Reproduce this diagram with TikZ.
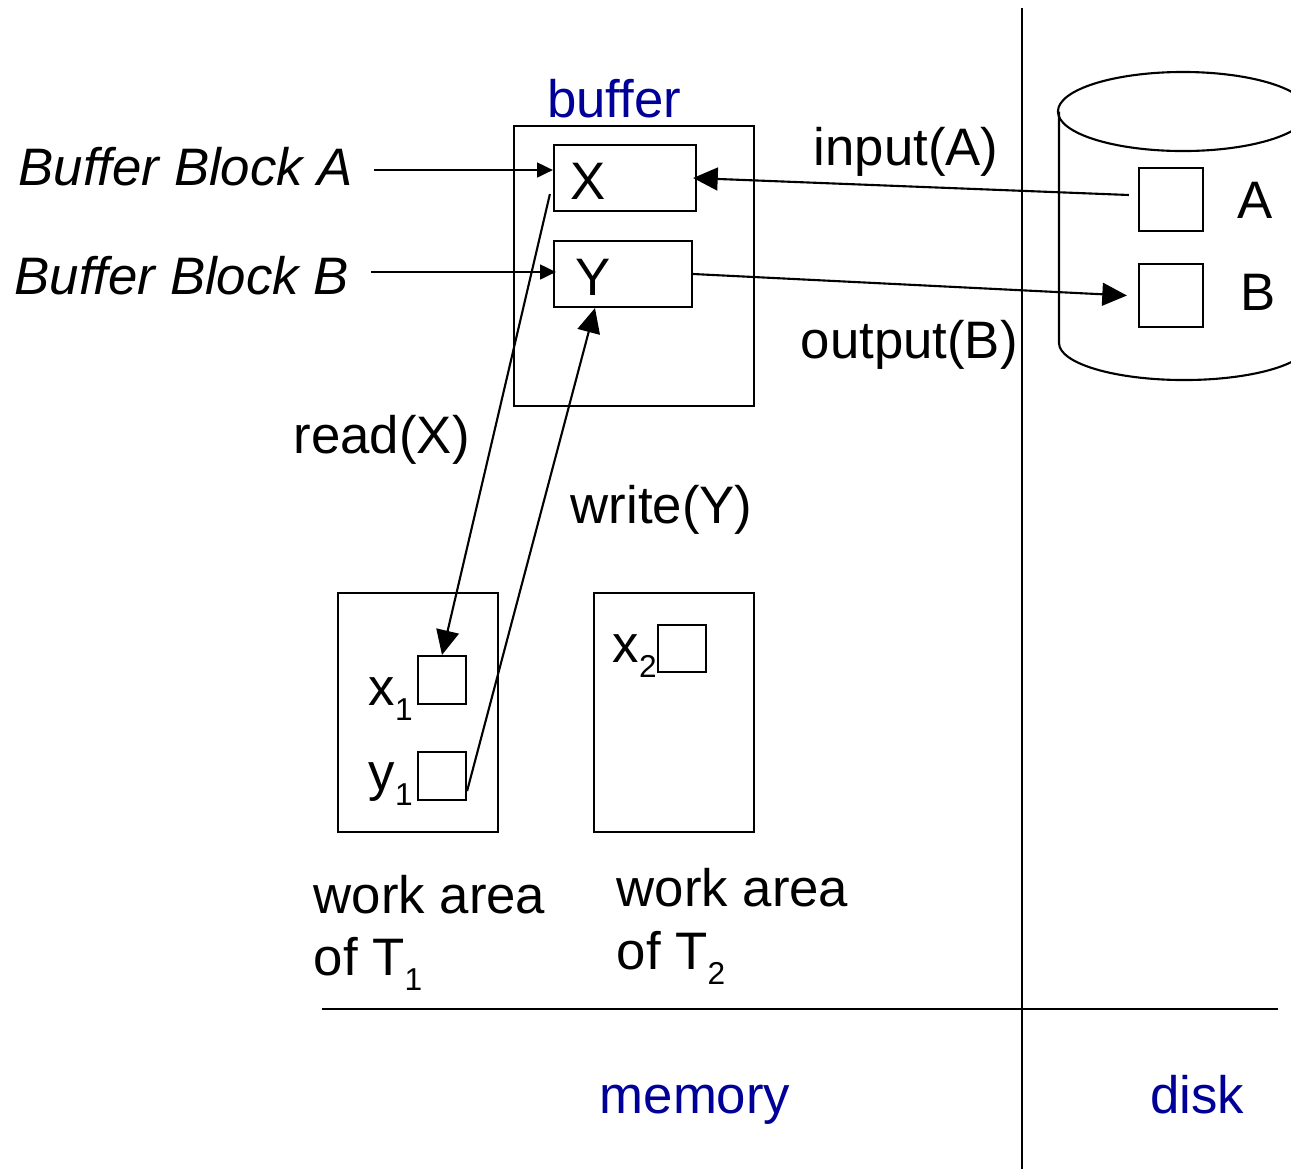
\documentclass[tikz,border=0pt]{standalone}
\usepackage{fontspec}
\setmainfont{Liberation Sans}
\usetikzlibrary{arrows.meta,positioning}
\definecolor{lblue}{RGB}{0,0,153}
\newcommand{\lowsub}[1]{\raisebox{-0.3em}{\fontsize{9}{9}\selectfont #1}}

\begin{document}
\begin{tikzpicture}[x=0.01cm,y=-0.01cm,
  every node/.style={font=\fontsize{15}{18}\selectfont, inner sep=0},
  box/.style={draw, line width=0.6pt},
  line/.style={line width=0.6pt},
  arr/.style={line width=0.6pt,-{Triangle[length=7pt,width=6.5pt]}},
  sarr/.style={line width=0.6pt,-{Triangle[length=4.5pt,width=4.2pt]}},
  blue label/.style={text=lblue}]
\useasboundingbox (0,0) rectangle (1291,1169);

% memory / disk split
\draw[line] (1022,8) -- (1022,1169);
\draw[line] (322,1009) -- (1278,1009);

% buffer
\node[box, minimum width=2.4cm, minimum height=2.8cm] (buf) at (634,266) {};
\node[box, minimum width=1.42cm, minimum height=0.66cm] (X) at (625,178) {};
\node[box, minimum width=1.38cm, minimum height=0.66cm] (Y) at (623,274) {};
\node[anchor=base west] (Xt) at (570,199) {X};
\node[anchor=base west] (Yt) at (575,295) {Y};
\node[blue label, anchor=base] (bufl) at (614,117) {buffer};
\node[anchor=base west] (lblA) at (18,185) {\itshape Buffer Block A};
\node[anchor=base west] (lblB) at (14,294) {\itshape Buffer Block B};

% disk
\begin{scope}
  \clip (1030,0) rectangle (1291,1169);
  \draw[line] (1183,111.5) ellipse [x radius=1.25cm, y radius=0.395cm];
  \draw[line] (1059,111.5) -- (1059,343)
    arc[start angle=180, end angle=360, x radius=1.25cm, y radius=0.37cm];
\end{scope}
\node[box, minimum width=0.64cm, minimum height=0.63cm] (dA) at (1171,199.5) {};
\node[box, minimum width=0.64cm, minimum height=0.63cm] (dB) at (1171,295.5) {};
\node[anchor=base west] (At) at (1237,218) {A};
\node[anchor=base west] (Bt) at (1240,310) {B};
\node[anchor=base west] (inA) at (813,165) {input(A)};
\node[anchor=base west] (outB) at (800,358) {output(B)};

% work areas
\node[box, minimum width=1.6cm, minimum height=2.39cm] (T1) at (418,712.5) {};
\node[box, minimum width=1.6cm, minimum height=2.39cm] (T2) at (674,712.5) {};
\node[box, minimum width=0.48cm, minimum height=0.48cm] (x1) at (442,680) {};
\node[box, minimum width=0.48cm, minimum height=0.48cm] (y1) at (442,776) {};
\node[box, minimum width=0.48cm, minimum height=0.47cm] (x2) at (682,648.5) {};
\node[anchor=base west] (x1t) at (368,705) {x\lowsub{1}};
\node[anchor=base west] (y1t) at (368,790) {y\lowsub{1}};
\node[anchor=base west] (x2t) at (612,662) {x\lowsub{2}};
\node[anchor=base west] (rdX) at (293,453) {read(X)};
\node[anchor=base west] (wrY) at (570,523) {write(Y)};
\node[anchor=base west] (wa1) at (313,913) {work area};
\node[anchor=base west] (of1) at (313,975) {of T\lowsub{1}};
\node[anchor=base west] (wa2) at (616,906) {work area};
\node[anchor=base west] (of2) at (616,969) {of T\lowsub{2}};
\node[blue label, anchor=base] (mem) at (695,1113) {memory};
\node[blue label, anchor=base] (dsk) at (1197,1113) {disk};

% arrows
\coordinate (aAs) at (374,170);
\coordinate (aBs) at (371,272);
\draw[sarr] (aAs) -- (X.west |- aAs);
\draw[sarr] (aBs) -- ([xshift=0.03cm]Y.west |- aBs);
\draw[arr] ([shift={(-0.09cm,0.045cm)}]dA.west) -- ([xshift=-0.04cm]X.east);
\draw[arr] (Y.east) -- ([xshift=-0.11cm]dB.west);
\draw[arr] ([shift={(-0.03cm,0.18cm)}]X.south west) -- (x1.north);
\draw[arr] ([yshift=0.1cm]y1.south east) -- ([xshift=-0.28cm]Y.south);
\end{tikzpicture}
\end{document}
